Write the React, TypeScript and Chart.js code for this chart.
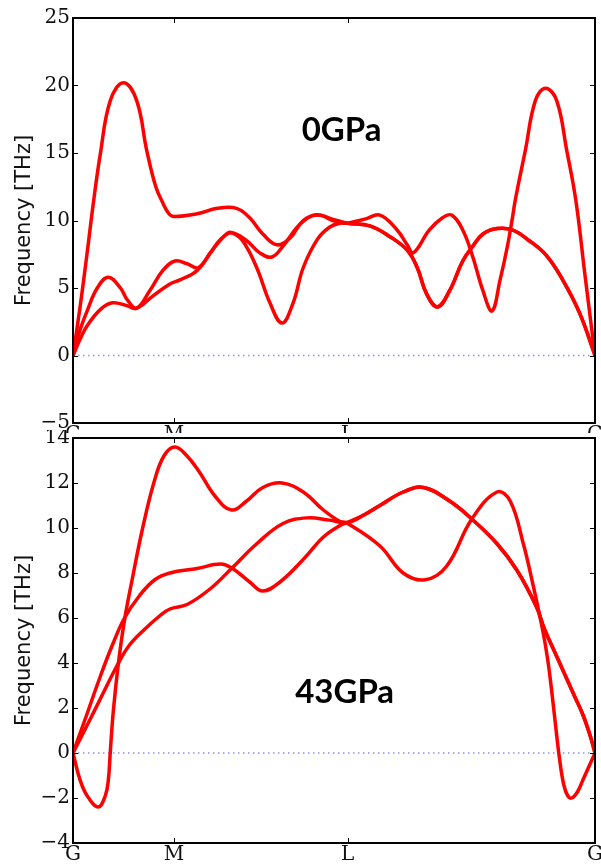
import React, { useEffect, useRef } from 'react';
import { Chart, registerables } from 'chart.js';

Chart.register(...registerables);

// k-path: G (0) -> M (1.00) -> L (2.72) -> G (5.17)
const xTickPositions = [0, 1.0, 2.72, 5.17];
const xTickLabels = ['G', 'M', 'L', 'G'];
const pathEnd = 5.17;

// ---- 0 GPa bands (THz) ----
const band0a: [number, number][] = [
  [0, 0], [0.07, 3.6], [0.14, 7.6], [0.2, 11.2], [0.27, 14.9], [0.37, 18.9], [0.5, 20.2],
  [0.63, 18.9], [0.73, 15.2], [0.82, 12.5], [0.89, 11.3], [0.95, 10.5], [1.0, 10.3],
  [1.23, 10.5], [1.43, 10.9], [1.62, 10.9], [1.75, 10.2], [1.88, 9.0], [2.02, 8.2], [2.15, 8.7],
  [2.28, 10.0], [2.42, 10.4], [2.57, 10.1], [2.72, 9.8], [2.94, 9.6], [3.14, 8.8], [3.31, 7.8],
  [3.41, 6.5], [3.5, 4.6], [3.61, 3.6], [3.73, 4.8], [3.86, 7.0], [3.96, 8.1], [4.06, 9.0],
  [4.2, 9.4], [4.35, 9.3], [4.52, 8.5], [4.69, 7.4], [4.85, 5.6], [5.02, 3.1], [5.17, 0],
];
const band0b: [number, number][] = [
  [0, 0], [0.07, 1.9], [0.14, 3.3], [0.24, 5.0], [0.35, 5.8], [0.47, 5.0], [0.54, 4.1], [0.63, 3.5],
  [0.76, 4.8], [0.89, 6.3], [1.01, 7.0], [1.13, 6.8], [1.24, 6.5], [1.36, 7.6], [1.46, 8.6],
  [1.57, 9.1], [1.72, 8.5], [1.85, 7.6], [1.97, 7.3], [2.08, 8.1], [2.22, 9.5], [2.35, 10.3],
  [2.45, 10.4], [2.57, 10.0], [2.72, 9.8], [2.94, 9.6], [3.14, 8.8], [3.31, 7.8], [3.41, 6.5],
  [3.5, 4.6], [3.61, 3.6], [3.73, 4.8], [3.86, 7.0], [3.96, 8.1], [4.06, 9.0], [4.2, 9.4],
  [4.35, 9.3], [4.52, 8.5], [4.69, 7.4], [4.85, 5.6], [5.02, 3.1], [5.17, 0],
];
const band0c: [number, number][] = [
  [0, 0], [0.07, 1.2], [0.14, 2.2], [0.27, 3.4], [0.39, 3.9], [0.53, 3.7], [0.63, 3.5], [0.79, 4.4],
  [0.96, 5.3], [1.06, 5.6], [1.23, 6.3], [1.39, 7.9], [1.52, 9.0], [1.57, 9.1], [1.68, 8.5],
  [1.82, 6.5], [1.95, 3.9], [2.07, 2.4], [2.18, 3.9], [2.28, 6.5], [2.42, 8.6], [2.54, 9.5],
  [2.64, 9.8], [2.72, 9.8], [2.89, 10.1], [3.04, 10.4], [3.21, 9.3], [3.31, 8.2], [3.37, 7.6],
  [3.53, 9.3], [3.66, 10.2], [3.75, 10.4], [3.86, 9.3], [3.96, 7.3], [4.06, 4.8], [4.15, 3.3],
  [4.23, 5.6], [4.3, 8.0], [4.35, 10.1], [4.38, 11.5], [4.48, 15.2], [4.58, 18.9], [4.68, 19.8],
  [4.79, 18.9], [4.89, 15.2], [4.98, 11.5], [5.07, 6.0], [5.17, 0],
];

// ---- 43 GPa bands (THz) ----
const band43a: [number, number][] = [
  [0, 0], [0.07, -1.2], [0.14, -1.9], [0.25, -2.4], [0.32, -1.9], [0.35, -1.2], [0.37, 0.1],
  [0.4, 1.9], [0.45, 4.0], [0.51, 5.9], [0.59, 7.8], [0.69, 10.0], [0.8, 12.0], [0.9, 13.2],
  [1.01, 13.6], [1.13, 13.2], [1.25, 12.5], [1.41, 11.4], [1.57, 10.8], [1.72, 11.2], [1.88, 11.8],
  [2.07, 12.0], [2.28, 11.6], [2.48, 10.8], [2.64, 10.3], [2.72, 10.2], [3.04, 9.2], [3.27, 8.0],
  [3.49, 7.7], [3.7, 8.3], [3.95, 10.4], [4.2, 11.6], [4.33, 11.2], [4.46, 9.3], [4.55, 7.6],
  [4.65, 5.5], [4.7, 4.2], [4.74, 2.8], [4.78, 1.2], [4.82, -0.3], [4.86, -1.4], [4.9, -1.9],
  [4.94, -2.0], [5.0, -1.7], [5.05, -1.2], [5.11, -0.6], [5.17, 0],
];
const band43b: [number, number][] = [
  [0, 0], [0.12, 1.5], [0.27, 3.4], [0.39, 4.8], [0.51, 6.0], [0.66, 7.0], [0.81, 7.7], [0.96, 8.0],
  [1.23, 8.2], [1.46, 8.4], [1.58, 8.2], [1.75, 7.6], [1.88, 7.2], [2.05, 7.6], [2.28, 8.6],
  [2.48, 9.6], [2.64, 10.1], [2.72, 10.25], [2.89, 10.6], [3.04, 11.0], [3.27, 11.6], [3.47, 11.8],
  [3.73, 11.2], [3.95, 10.4], [4.2, 9.3], [4.4, 8.1], [4.59, 6.5], [4.67, 5.5], [4.77, 4.5],
  [4.87, 3.5], [4.97, 2.5], [5.05, 1.7], [5.12, 0.8], [5.17, 0],
];
const band43c: [number, number][] = [
  [0, 0], [0.17, 1.5], [0.27, 2.4], [0.45, 4.0], [0.56, 4.8], [0.71, 5.5], [0.86, 6.1], [0.96, 6.4],
  [1.13, 6.6], [1.36, 7.3], [1.57, 8.2], [1.82, 9.3], [2.08, 10.2], [2.32, 10.45], [2.54, 10.35],
  [2.72, 10.25], [2.89, 10.6], [3.04, 11.0], [3.27, 11.6], [3.47, 11.8], [3.73, 11.2], [3.95, 10.4],
  [4.2, 9.3], [4.4, 8.1], [4.59, 6.5], [4.67, 5.5], [4.77, 4.5], [4.87, 3.5], [4.97, 2.5],
  [5.05, 1.7], [5.12, 0.8], [5.17, 0],
];

const zeroLine: [number, number][] = [[0, 0], [pathEnd, 0]];

const yTitle = 'Frequency [THz]';

const framePlugin = {
  id: 'frame',
  afterDatasetsDraw(chart: any, _args: any, opts: any) {
    const { ctx, chartArea: a, scales } = chart;
    ctx.save();
    ctx.strokeStyle = '#000';
    ctx.lineWidth = 1;
    const seg = (x1: number, y1: number, x2: number, y2: number) => {
      ctx.beginPath();
      ctx.moveTo(x1, y1);
      ctx.lineTo(x2, y2);
      ctx.stroke();
    };
    scales.y.ticks.forEach((t: any) => {
      const py = Math.round(scales.y.getPixelForValue(t.value)) + 0.5;
      seg(a.left, py, a.left + 5, py);
      seg(a.right, py, a.right - 5, py);
    });
    xTickPositions.forEach((v) => {
      const px = Math.round(scales.x.getPixelForValue(v)) + 0.5;
      seg(px, a.top, px, a.top + 5);
      seg(px, a.bottom, px, a.bottom - 5);
    });
    ctx.lineWidth = 2;
    ctx.strokeRect(a.left, a.top, a.right - a.left, a.bottom - a.top);

    // y-axis title
    ctx.fillStyle = '#111';
    ctx.font = '21px "DejaVu Sans"';
    ctx.textAlign = 'center';
    ctx.textBaseline = 'alphabetic';
    ctx.save();
    ctx.translate(30, (a.top + a.bottom) / 2);
    ctx.rotate(-Math.PI / 2);
    ctx.fillText(yTitle, 0, 0);
    ctx.restore();

    // pressure label
    ctx.fillStyle = '#000';
    ctx.font = 'bold 33px Lato';
    ctx.textAlign = 'center';
    ctx.textBaseline = 'middle';
    ctx.fillText(opts.label, scales.x.getPixelForValue(opts.labelX), scales.y.getPixelForValue(opts.labelY));
    ctx.restore();
  },
};

const fmt = (v: number) => (v < 0 ? '\u2212' + Math.abs(v) : String(v));

type PanelProps = {
  bands: [number, number][][];
  yMin: number;
  yMax: number;
  yStep: number;
  label: string;
  labelX: number;
  labelY: number;
  top: number;
  height: number;
  padTop: number;
  xAxisHeight: number;
};

function Panel(p: PanelProps) {
  const ref = useRef<HTMLCanvasElement>(null);
  useEffect(() => {
    const datasets: any[] = p.bands.map((b) => ({
      data: b.map(([x, y]) => ({ x, y })),
      borderColor: '#ff0000',
      borderWidth: 3.5,
      borderJoinStyle: 'round',
      borderCapStyle: 'round',
      pointRadius: 0,
      fill: false,
      tension: 0.4,
    }));
    datasets.push({
      data: zeroLine.map(([x, y]) => ({ x, y })),
      borderColor: '#8c8cff',
      borderWidth: 1.5,
      borderDash: [1.5, 3.5],
      pointRadius: 0,
      fill: false,
    });
    const chart = new Chart(ref.current!, {
      type: 'line',
      data: { datasets },
      options: {
        animation: false,
        responsive: false,
        maintainAspectRatio: false,
        events: [],
        layout: { padding: { top: p.padTop, right: 6, left: 0, bottom: 0 } },
        plugins: {
          legend: { display: false },
          tooltip: { enabled: false },
          frame: { label: p.label, labelX: p.labelX, labelY: p.labelY },
        } as any,
        scales: {
          x: {
            type: 'linear',
            min: 0,
            max: pathEnd,
            grid: { display: false, drawTicks: false },
            border: { display: false },
            afterBuildTicks: (s: any) => {
              s.ticks = xTickPositions.map((v) => ({ value: v }));
            },
            afterFit: (s: any) => {
              s.height = p.xAxisHeight;
              s.paddingLeft = 0;
              s.paddingRight = 0;
            },
            ticks: {
              autoSkip: false,
              maxRotation: 0,
              padding: 0,
              color: '#111',
              font: { family: 'DejaVu Serif', size: 20 },
              callback: (_v: any, i: number) => xTickLabels[i],
            },
          },
          y: {
            type: 'linear',
            min: p.yMin,
            max: p.yMax,
            grid: { display: false, drawTicks: false },
            border: { display: false },
            afterFit: (s: any) => {
              s.width = 73;
              s.paddingTop = 0;
              s.paddingBottom = 0;
            },
            ticks: {
              stepSize: p.yStep,
              padding: 3,
              color: '#111',
              font: { family: 'DejaVu Serif', size: 20 },
              callback: (v: any) => fmt(Number(v)),
            },
          },
        },
      },
      plugins: [framePlugin],
    });
    return () => chart.destroy();
  }, []);
  return (
    <canvas
      ref={ref}
      width={601}
      height={p.height}
      style={{ position: 'absolute', left: 0, top: p.top, width: 601, height: p.height }}
    />
  );
}

export default function App() {
  return (
    <div style={{ position: 'absolute', left: 0, top: 0, width: 601, height: 867, background: '#fff', overflow: 'hidden' }}>
      <Panel
        bands={[band0a, band0b, band0c]}
        yMin={-5}
        yMax={25}
        yStep={5}
        label="0GPa"
        labelX={2.66}
        labelY={16.7}
        top={0}
        height={433}
        padTop={18}
        xAxisHeight={10}
      />
      <Panel
        bands={[band43a, band43b, band43c]}
        yMin={-4}
        yMax={14}
        yStep={2}
        label="43GPa"
        labelX={2.69}
        labelY={2.7}
        top={430}
        height={437}
        padTop={8}
        xAxisHeight={24}
      />
    </div>
  );
}
